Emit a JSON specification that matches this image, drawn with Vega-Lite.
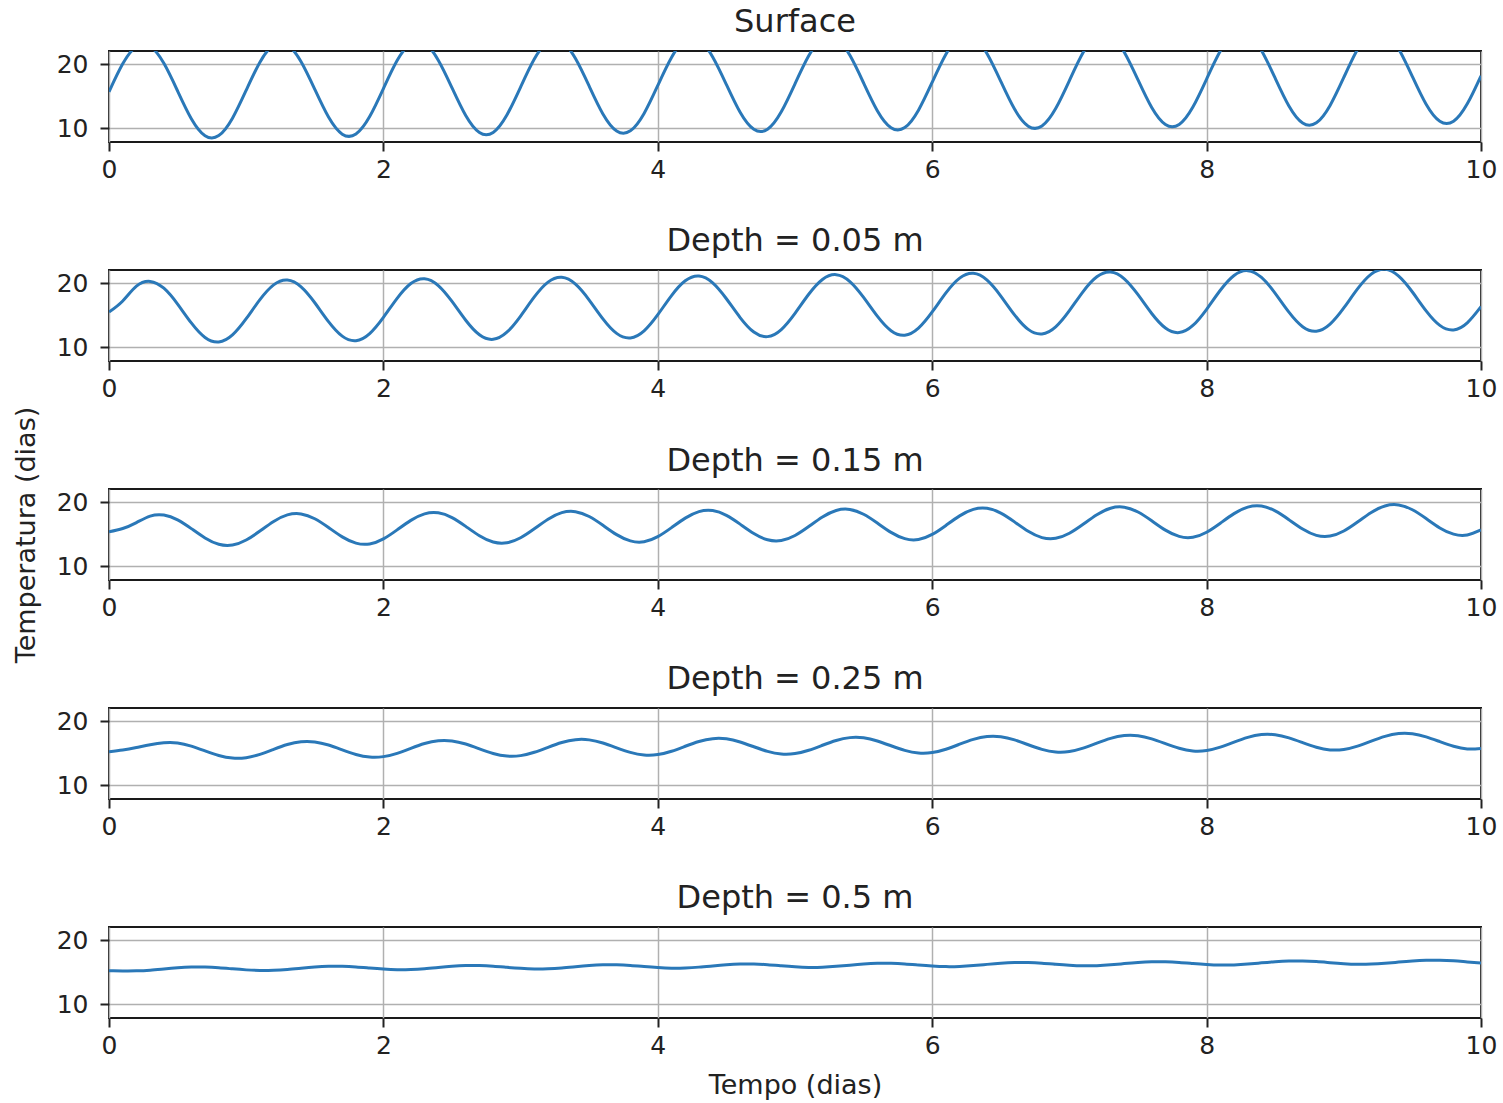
{
  "$schema": "https://vega.github.io/schema/vega-lite/v6.json",
  "background": "white",
  "padding": {"left": 11, "top": 5, "right": 10, "bottom": 2},
  "bounds": "flush",
  "spacing": 128,
  "config": {
    "font": "DejaVu Sans",
    "view": {"stroke": "#1a1a1a", "strokeWidth": 2},
    "axis": {
      "labelFont": "DejaVu Sans", "labelFontSize": 25, "labelColor": "#222222",
      "tickColor": "#222222", "tickSize": 9, "tickWidth": 2, "domain": false,
      "grid": true, "gridColor": "#b0b0b0", "gridWidth": 1.5,
      "titleFont": "DejaVu Sans", "titleFontSize": 27, "titleFontWeight": "normal", "titleColor": "#222222"
    },
    "title": {"font": "DejaVu Sans", "fontSize": 32, "fontWeight": "normal", "color": "#222222", "offset": 12, "baseline": "alphabetic"}
  },
  "datasets": {
    "surface": [
      {"t":0,"T":15.70},{"t":0.1,"T":20.08},{"t":0.2,"T":22.79},{"t":0.3,"T":22.81},{"t":0.4,"T":20.15},{"t":0.5,"T":15.83},{"t":0.6,"T":11.50},{"t":0.7,"T":8.84},{"t":0.8,"T":8.86},{"t":0.9,"T":11.58},
      {"t":1,"T":15.95},{"t":1.1,"T":20.33},{"t":1.2,"T":23.04},{"t":1.3,"T":23.06},{"t":1.4,"T":20.40},{"t":1.5,"T":16.08},{"t":1.6,"T":11.75},{"t":1.7,"T":9.09},{"t":1.8,"T":9.11},{"t":1.9,"T":11.83},
      {"t":2,"T":16.20},{"t":2.1,"T":20.58},{"t":2.2,"T":23.29},{"t":2.3,"T":23.31},{"t":2.4,"T":20.65},{"t":2.5,"T":16.33},{"t":2.6,"T":12.00},{"t":2.7,"T":9.34},{"t":2.8,"T":9.36},{"t":2.9,"T":12.08},
      {"t":3,"T":16.45},{"t":3.1,"T":20.83},{"t":3.2,"T":23.54},{"t":3.3,"T":23.56},{"t":3.4,"T":20.90},{"t":3.5,"T":16.58},{"t":3.6,"T":12.25},{"t":3.7,"T":9.59},{"t":3.8,"T":9.61},{"t":3.9,"T":12.33},
      {"t":4,"T":16.70},{"t":4.1,"T":21.08},{"t":4.2,"T":23.79},{"t":4.3,"T":23.81},{"t":4.4,"T":21.15},{"t":4.5,"T":16.83},{"t":4.6,"T":12.50},{"t":4.7,"T":9.84},{"t":4.8,"T":9.86},{"t":4.9,"T":12.58},
      {"t":5,"T":16.95},{"t":5.1,"T":21.33},{"t":5.2,"T":24.04},{"t":5.3,"T":24.06},{"t":5.4,"T":21.40},{"t":5.5,"T":17.08},{"t":5.6,"T":12.75},{"t":5.7,"T":10.09},{"t":5.8,"T":10.11},{"t":5.9,"T":12.83},
      {"t":6,"T":17.20},{"t":6.1,"T":21.58},{"t":6.2,"T":24.29},{"t":6.3,"T":24.31},{"t":6.4,"T":21.65},{"t":6.5,"T":17.33},{"t":6.6,"T":13.00},{"t":6.7,"T":10.34},{"t":6.8,"T":10.36},{"t":6.9,"T":13.08},
      {"t":7,"T":17.45},{"t":7.1,"T":21.83},{"t":7.2,"T":24.54},{"t":7.3,"T":24.56},{"t":7.4,"T":21.90},{"t":7.5,"T":17.58},{"t":7.6,"T":13.25},{"t":7.7,"T":10.59},{"t":7.8,"T":10.61},{"t":7.9,"T":13.33},
      {"t":8,"T":17.70},{"t":8.1,"T":22.08},{"t":8.2,"T":24.79},{"t":8.3,"T":24.81},{"t":8.4,"T":22.15},{"t":8.5,"T":17.83},{"t":8.6,"T":13.50},{"t":8.7,"T":10.84},{"t":8.8,"T":10.86},{"t":8.9,"T":13.58},
      {"t":9,"T":17.95},{"t":9.1,"T":22.33},{"t":9.2,"T":25.04},{"t":9.3,"T":25.06},{"t":9.4,"T":22.40},{"t":9.5,"T":18.08},{"t":9.6,"T":13.75},{"t":9.7,"T":11.09},{"t":9.8,"T":11.11},{"t":9.9,"T":13.83},
      {"t":10,"T":18.20}
    ],
    "d005": [
      {"t":0,"T":15.50},{"t":0.1,"T":17.24},{"t":0.2,"T":19.55},{"t":0.3,"T":20.30},{"t":0.4,"T":19.23},{"t":0.5,"T":16.75},{"t":0.6,"T":13.81},{"t":0.7,"T":11.54},{"t":0.8,"T":10.83},{"t":0.9,"T":11.94},
      {"t":1,"T":14.47},{"t":1.1,"T":17.45},{"t":1.2,"T":19.76},{"t":1.3,"T":20.51},{"t":1.4,"T":19.44},{"t":1.5,"T":16.96},{"t":1.6,"T":14.02},{"t":1.7,"T":11.75},{"t":1.8,"T":11.04},{"t":1.9,"T":12.15},
      {"t":2,"T":14.68},{"t":2.1,"T":17.66},{"t":2.2,"T":19.97},{"t":2.3,"T":20.72},{"t":2.4,"T":19.65},{"t":2.5,"T":17.17},{"t":2.6,"T":14.23},{"t":2.7,"T":11.96},{"t":2.8,"T":11.25},{"t":2.9,"T":12.36},
      {"t":3,"T":14.89},{"t":3.1,"T":17.87},{"t":3.2,"T":20.18},{"t":3.3,"T":20.93},{"t":3.4,"T":19.86},{"t":3.5,"T":17.38},{"t":3.6,"T":14.44},{"t":3.7,"T":12.17},{"t":3.8,"T":11.46},{"t":3.9,"T":12.57},
      {"t":4,"T":15.10},{"t":4.1,"T":18.08},{"t":4.2,"T":20.39},{"t":4.3,"T":21.14},{"t":4.4,"T":20.07},{"t":4.5,"T":17.59},{"t":4.6,"T":14.65},{"t":4.7,"T":12.38},{"t":4.8,"T":11.67},{"t":4.9,"T":12.78},
      {"t":5,"T":15.31},{"t":5.1,"T":18.29},{"t":5.2,"T":20.60},{"t":5.3,"T":21.35},{"t":5.4,"T":20.28},{"t":5.5,"T":17.80},{"t":5.6,"T":14.86},{"t":5.7,"T":12.59},{"t":5.8,"T":11.88},{"t":5.9,"T":12.99},
      {"t":6,"T":15.52},{"t":6.1,"T":18.50},{"t":6.2,"T":20.81},{"t":6.3,"T":21.56},{"t":6.4,"T":20.49},{"t":6.5,"T":18.01},{"t":6.6,"T":15.07},{"t":6.7,"T":12.80},{"t":6.8,"T":12.09},{"t":6.9,"T":13.20},
      {"t":7,"T":15.73},{"t":7.1,"T":18.71},{"t":7.2,"T":21.02},{"t":7.3,"T":21.77},{"t":7.4,"T":20.70},{"t":7.5,"T":18.22},{"t":7.6,"T":15.28},{"t":7.7,"T":13.01},{"t":7.8,"T":12.30},{"t":7.9,"T":13.41},
      {"t":8,"T":15.94},{"t":8.1,"T":18.92},{"t":8.2,"T":21.23},{"t":8.3,"T":21.98},{"t":8.4,"T":20.91},{"t":8.5,"T":18.43},{"t":8.6,"T":15.49},{"t":8.7,"T":13.22},{"t":8.8,"T":12.51},{"t":8.9,"T":13.62},
      {"t":9,"T":16.15},{"t":9.1,"T":19.13},{"t":9.2,"T":21.44},{"t":9.3,"T":22.19},{"t":9.4,"T":21.12},{"t":9.5,"T":18.64},{"t":9.6,"T":15.70},{"t":9.7,"T":13.43},{"t":9.8,"T":12.72},{"t":9.9,"T":13.83},
      {"t":10,"T":16.36}
    ],
    "d015": [
      {"t":0,"T":15.40},{"t":0.1,"T":15.90},{"t":0.2,"T":16.83},{"t":0.3,"T":17.85},{"t":0.4,"T":18.01},{"t":0.5,"T":17.26},{"t":0.6,"T":15.89},{"t":0.7,"T":14.43},{"t":0.8,"T":13.44},{"t":0.9,"T":13.32},
      {"t":1,"T":14.11},{"t":1.1,"T":15.51},{"t":1.2,"T":17.01},{"t":1.3,"T":18.03},{"t":1.4,"T":18.19},{"t":1.5,"T":17.43},{"t":1.6,"T":16.06},{"t":1.7,"T":14.60},{"t":1.8,"T":13.62},{"t":1.9,"T":13.49},
      {"t":2,"T":14.28},{"t":2.1,"T":15.69},{"t":2.2,"T":17.18},{"t":2.3,"T":18.20},{"t":2.4,"T":18.36},{"t":2.5,"T":17.61},{"t":2.6,"T":16.24},{"t":2.7,"T":14.78},{"t":2.8,"T":13.79},{"t":2.9,"T":13.67},
      {"t":3,"T":14.46},{"t":3.1,"T":15.86},{"t":3.2,"T":17.36},{"t":3.3,"T":18.38},{"t":3.4,"T":18.54},{"t":3.5,"T":17.78},{"t":3.6,"T":16.41},{"t":3.7,"T":14.95},{"t":3.8,"T":13.97},{"t":3.9,"T":13.84},
      {"t":4,"T":14.63},{"t":4.1,"T":16.04},{"t":4.2,"T":17.53},{"t":4.3,"T":18.55},{"t":4.4,"T":18.71},{"t":4.5,"T":17.96},{"t":4.6,"T":16.59},{"t":4.7,"T":15.13},{"t":4.8,"T":14.14},{"t":4.9,"T":14.02},
      {"t":5,"T":14.81},{"t":5.1,"T":16.21},{"t":5.2,"T":17.71},{"t":5.3,"T":18.73},{"t":5.4,"T":18.89},{"t":5.5,"T":18.13},{"t":5.6,"T":16.76},{"t":5.7,"T":15.30},{"t":5.8,"T":14.32},{"t":5.9,"T":14.19},
      {"t":6,"T":14.98},{"t":6.1,"T":16.39},{"t":6.2,"T":17.88},{"t":6.3,"T":18.90},{"t":6.4,"T":19.06},{"t":6.5,"T":18.31},{"t":6.6,"T":16.94},{"t":6.7,"T":15.48},{"t":6.8,"T":14.49},{"t":6.9,"T":14.37},
      {"t":7,"T":15.16},{"t":7.1,"T":16.56},{"t":7.2,"T":18.06},{"t":7.3,"T":19.08},{"t":7.4,"T":19.24},{"t":7.5,"T":18.48},{"t":7.6,"T":17.11},{"t":7.7,"T":15.65},{"t":7.8,"T":14.67},{"t":7.9,"T":14.54},
      {"t":8,"T":15.33},{"t":8.1,"T":16.74},{"t":8.2,"T":18.23},{"t":8.3,"T":19.25},{"t":8.4,"T":19.41},{"t":8.5,"T":18.66},{"t":8.6,"T":17.29},{"t":8.7,"T":15.83},{"t":8.8,"T":14.84},{"t":8.9,"T":14.72},
      {"t":9,"T":15.51},{"t":9.1,"T":16.91},{"t":9.2,"T":18.41},{"t":9.3,"T":19.43},{"t":9.4,"T":19.59},{"t":9.5,"T":18.83},{"t":9.6,"T":17.46},{"t":9.7,"T":16.00},{"t":9.8,"T":15.02},{"t":9.9,"T":14.89},
      {"t":10,"T":15.68}
    ],
    "d025": [
      {"t":0,"T":15.25},{"t":0.1,"T":15.50},{"t":0.2,"T":15.90},{"t":0.3,"T":16.35},{"t":0.4,"T":16.65},{"t":0.5,"T":16.62},{"t":0.6,"T":16.13},{"t":0.7,"T":15.38},{"t":0.8,"T":14.66},{"t":0.9,"T":14.25},
      {"t":1,"T":14.32},{"t":1.1,"T":14.84},{"t":1.2,"T":15.62},{"t":1.3,"T":16.37},{"t":1.4,"T":16.81},{"t":1.5,"T":16.78},{"t":1.6,"T":16.29},{"t":1.7,"T":15.54},{"t":1.8,"T":14.82},{"t":1.9,"T":14.41},
      {"t":2,"T":14.48},{"t":2.1,"T":15.00},{"t":2.2,"T":15.78},{"t":2.3,"T":16.53},{"t":2.4,"T":16.97},{"t":2.5,"T":16.94},{"t":2.6,"T":16.45},{"t":2.7,"T":15.70},{"t":2.8,"T":14.98},{"t":2.9,"T":14.57},
      {"t":3,"T":14.64},{"t":3.1,"T":15.16},{"t":3.2,"T":15.94},{"t":3.3,"T":16.69},{"t":3.4,"T":17.13},{"t":3.5,"T":17.10},{"t":3.6,"T":16.61},{"t":3.7,"T":15.86},{"t":3.8,"T":15.14},{"t":3.9,"T":14.73},
      {"t":4,"T":14.80},{"t":4.1,"T":15.32},{"t":4.2,"T":16.10},{"t":4.3,"T":16.85},{"t":4.4,"T":17.29},{"t":4.5,"T":17.26},{"t":4.6,"T":16.77},{"t":4.7,"T":16.02},{"t":4.8,"T":15.30},{"t":4.9,"T":14.89},
      {"t":5,"T":14.96},{"t":5.1,"T":15.48},{"t":5.2,"T":16.26},{"t":5.3,"T":17.01},{"t":5.4,"T":17.45},{"t":5.5,"T":17.42},{"t":5.6,"T":16.93},{"t":5.7,"T":16.18},{"t":5.8,"T":15.46},{"t":5.9,"T":15.05},
      {"t":6,"T":15.12},{"t":6.1,"T":15.64},{"t":6.2,"T":16.42},{"t":6.3,"T":17.17},{"t":6.4,"T":17.61},{"t":6.5,"T":17.58},{"t":6.6,"T":17.09},{"t":6.7,"T":16.34},{"t":6.8,"T":15.62},{"t":6.9,"T":15.21},
      {"t":7,"T":15.28},{"t":7.1,"T":15.80},{"t":7.2,"T":16.58},{"t":7.3,"T":17.33},{"t":7.4,"T":17.77},{"t":7.5,"T":17.74},{"t":7.6,"T":17.25},{"t":7.7,"T":16.50},{"t":7.8,"T":15.78},{"t":7.9,"T":15.37},
      {"t":8,"T":15.44},{"t":8.1,"T":15.96},{"t":8.2,"T":16.74},{"t":8.3,"T":17.49},{"t":8.4,"T":17.93},{"t":8.5,"T":17.90},{"t":8.6,"T":17.41},{"t":8.7,"T":16.66},{"t":8.8,"T":15.94},{"t":8.9,"T":15.53},
      {"t":9,"T":15.60},{"t":9.1,"T":16.12},{"t":9.2,"T":16.90},{"t":9.3,"T":17.65},{"t":9.4,"T":18.09},{"t":9.5,"T":18.06},{"t":9.6,"T":17.57},{"t":9.7,"T":16.82},{"t":9.8,"T":16.10},{"t":9.9,"T":15.69},
      {"t":10,"T":15.76}
    ],
    "d05": [
      {"t":0,"T":15.26},{"t":0.1,"T":15.22},{"t":0.2,"T":15.23},{"t":0.3,"T":15.33},{"t":0.4,"T":15.52},{"t":0.5,"T":15.70},{"t":0.6,"T":15.81},{"t":0.7,"T":15.81},{"t":0.8,"T":15.71},{"t":0.9,"T":15.54},
      {"t":1,"T":15.38},{"t":1.1,"T":15.29},{"t":1.2,"T":15.32},{"t":1.3,"T":15.45},{"t":1.4,"T":15.64},{"t":1.5,"T":15.82},{"t":1.6,"T":15.93},{"t":1.7,"T":15.93},{"t":1.8,"T":15.83},{"t":1.9,"T":15.66},
      {"t":2,"T":15.50},{"t":2.1,"T":15.41},{"t":2.2,"T":15.44},{"t":2.3,"T":15.57},{"t":2.4,"T":15.76},{"t":2.5,"T":15.94},{"t":2.6,"T":16.05},{"t":2.7,"T":16.05},{"t":2.8,"T":15.95},{"t":2.9,"T":15.78},
      {"t":3,"T":15.62},{"t":3.1,"T":15.53},{"t":3.2,"T":15.56},{"t":3.3,"T":15.69},{"t":3.4,"T":15.88},{"t":3.5,"T":16.06},{"t":3.6,"T":16.17},{"t":3.7,"T":16.17},{"t":3.8,"T":16.07},{"t":3.9,"T":15.90},
      {"t":4,"T":15.74},{"t":4.1,"T":15.65},{"t":4.2,"T":15.68},{"t":4.3,"T":15.81},{"t":4.4,"T":16.00},{"t":4.5,"T":16.18},{"t":4.6,"T":16.29},{"t":4.7,"T":16.29},{"t":4.8,"T":16.19},{"t":4.9,"T":16.02},
      {"t":5,"T":15.86},{"t":5.1,"T":15.77},{"t":5.2,"T":15.80},{"t":5.3,"T":15.93},{"t":5.4,"T":16.12},{"t":5.5,"T":16.30},{"t":5.6,"T":16.41},{"t":5.7,"T":16.41},{"t":5.8,"T":16.31},{"t":5.9,"T":16.14},
      {"t":6,"T":15.98},{"t":6.1,"T":15.89},{"t":6.2,"T":15.92},{"t":6.3,"T":16.05},{"t":6.4,"T":16.24},{"t":6.5,"T":16.42},{"t":6.6,"T":16.53},{"t":6.7,"T":16.53},{"t":6.8,"T":16.43},{"t":6.9,"T":16.26},
      {"t":7,"T":16.10},{"t":7.1,"T":16.01},{"t":7.2,"T":16.04},{"t":7.3,"T":16.17},{"t":7.4,"T":16.36},{"t":7.5,"T":16.54},{"t":7.6,"T":16.65},{"t":7.7,"T":16.65},{"t":7.8,"T":16.55},{"t":7.9,"T":16.38},
      {"t":8,"T":16.22},{"t":8.1,"T":16.13},{"t":8.2,"T":16.16},{"t":8.3,"T":16.29},{"t":8.4,"T":16.48},{"t":8.5,"T":16.66},{"t":8.6,"T":16.77},{"t":8.7,"T":16.77},{"t":8.8,"T":16.67},{"t":8.9,"T":16.50},
      {"t":9,"T":16.34},{"t":9.1,"T":16.25},{"t":9.2,"T":16.28},{"t":9.3,"T":16.41},{"t":9.4,"T":16.60},{"t":9.5,"T":16.78},{"t":9.6,"T":16.89},{"t":9.7,"T":16.89},{"t":9.8,"T":16.79},{"t":9.9,"T":16.62},
      {"t":10,"T":16.46}
    ]
  },
  "vconcat": [
    {
      "title": "Surface",
      "width": 1372, "height": 91,
      "data": {"name": "surface"},
      "mark": {"type": "line", "clip": true, "interpolate": "natural", "strokeWidth": 3, "color": "#2a78b8"},
      "encoding": {
        "x": {"field": "t", "type": "quantitative", "scale": {"domain": [0, 10], "nice": false}, "axis": {"values": [0, 2, 4, 6, 8, 10], "title": null, "labelPadding": 6, "labelFlush": false}},
        "y": {"field": "T", "type": "quantitative", "scale": {"domain": [7.86, 22.08], "nice": false, "zero": false}, "axis": {"values": [10, 20], "title": null, "labelPadding": 12}}
      }
    },
    {
      "title": "Depth = 0.05 m",
      "width": 1372, "height": 91,
      "data": {"name": "d005"},
      "mark": {"type": "line", "clip": true, "interpolate": "natural", "strokeWidth": 3, "color": "#2a78b8"},
      "encoding": {
        "x": {"field": "t", "type": "quantitative", "scale": {"domain": [0, 10], "nice": false}, "axis": {"values": [0, 2, 4, 6, 8, 10], "title": null, "labelPadding": 6, "labelFlush": false}},
        "y": {"field": "T", "type": "quantitative", "scale": {"domain": [7.86, 22.08], "nice": false, "zero": false}, "axis": {"values": [10, 20], "title": null, "labelPadding": 12}}
      }
    },
    {
      "title": {"text": "Depth = 0.15 m", "offset": -72},
      "width": 1372, "height": 91,
      "data": {"name": "d015"},
      "mark": {"type": "line", "clip": true, "interpolate": "natural", "strokeWidth": 3, "color": "#2a78b8"},
      "encoding": {
        "x": {"field": "t", "type": "quantitative", "scale": {"domain": [0, 10], "nice": false}, "axis": {"values": [0, 2, 4, 6, 8, 10], "title": null, "labelPadding": 6, "labelFlush": false}},
        "y": {"field": "T", "type": "quantitative", "scale": {"domain": [7.86, 22.08], "nice": false, "zero": false}, "axis": {"values": [10, 20], "title": "Temperatura (dias)", "titlePadding": 16, "labelPadding": 12}}
      }
    },
    {
      "title": "Depth = 0.25 m",
      "width": 1372, "height": 91,
      "data": {"name": "d025"},
      "mark": {"type": "line", "clip": true, "interpolate": "natural", "strokeWidth": 3, "color": "#2a78b8"},
      "encoding": {
        "x": {"field": "t", "type": "quantitative", "scale": {"domain": [0, 10], "nice": false}, "axis": {"values": [0, 2, 4, 6, 8, 10], "title": null, "labelPadding": 6, "labelFlush": false}},
        "y": {"field": "T", "type": "quantitative", "scale": {"domain": [7.86, 22.08], "nice": false, "zero": false}, "axis": {"values": [10, 20], "title": null, "labelPadding": 12}}
      }
    },
    {
      "title": "Depth = 0.5 m",
      "width": 1372, "height": 91,
      "data": {"name": "d05"},
      "mark": {"type": "line", "clip": true, "interpolate": "natural", "strokeWidth": 3, "color": "#2a78b8"},
      "encoding": {
        "x": {"field": "t", "type": "quantitative", "scale": {"domain": [0, 10], "nice": false}, "axis": {"values": [0, 2, 4, 6, 8, 10], "title": "Tempo (dias)", "titlePadding": 14, "labelPadding": 6, "labelFlush": false}},
        "y": {"field": "T", "type": "quantitative", "scale": {"domain": [7.86, 22.08], "nice": false, "zero": false}, "axis": {"values": [10, 20], "title": null, "labelPadding": 12}}
      }
    }
  ]
}
